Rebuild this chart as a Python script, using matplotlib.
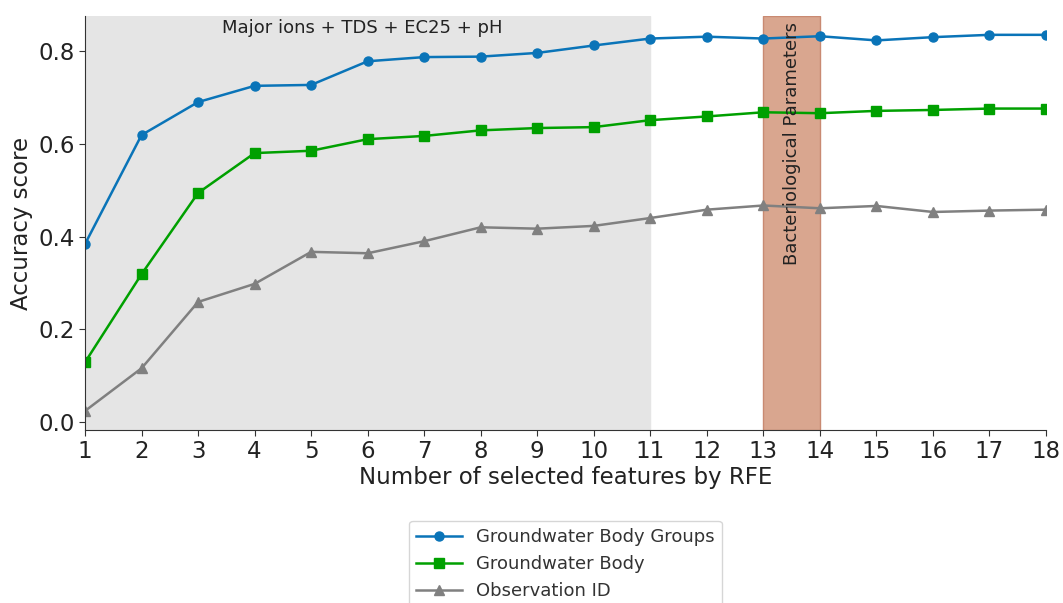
import matplotlib.pyplot as plt

# Datos
n_features = list(range(1, 19))
gw_body_groups = [0.384, 0.619, 0.690, 0.725, 0.727, 0.778, 0.787, 0.788, 0.796, 0.812,
                  0.827, 0.831, 0.827, 0.832, 0.823, 0.830, 0.835, 0.835]
gw_body = [0.129, 0.319, 0.494, 0.580, 0.585, 0.610, 0.617, 0.629, 0.634, 0.636,
           0.651, 0.659, 0.668, 0.666, 0.671, 0.673, 0.676, 0.676]
observation_id = [0.024, 0.116, 0.259, 0.298, 0.367, 0.364, 0.390, 0.420, 0.417, 0.423,
                  0.440, 0.458, 0.467, 0.461, 0.466, 0.453, 0.456, 0.458]

fig = plt.figure(figsize=(10.63, 6.03), dpi=100)
ax = fig.add_axes([0.080, 0.287, 0.904, 0.686])

# Zonas sombreadas
ax.axvspan(1, 11, color='#e5e5e5', zorder=0)
ax.axvspan(13, 14, facecolor='#d9a68f', edgecolor='#c98a72', linewidth=1, zorder=0)
ax.text(5.9, 0.849, 'Major ions + TDS + EC25 + pH', ha='center', va='center',
        fontsize=13, color='#222222')
ax.text(13.5, 0.60, 'Bacteriological Parameters', rotation=90, ha='center', va='center',
        fontsize=13, color='#222222')

ax.plot(n_features, gw_body_groups, marker='o', color='#0a74b8', linewidth=1.8,
        markersize=6.5, label='Groundwater Body Groups')
ax.plot(n_features, gw_body, marker='s', color='#00a000', linewidth=1.8,
        markersize=6.5, label='Groundwater Body')
ax.plot(n_features, observation_id, marker='^', color='#808080', linewidth=1.8,
        markersize=6.5, label='Observation ID')

ax.set_xlim(1, 18)
ax.set_ylim(-0.017, 0.875)
ax.set_xticks(n_features)
ax.set_yticks([0.0, 0.2, 0.4, 0.6, 0.8])
ax.set_yticklabels(['0.0', '0.2', '0.4', '0.6', '0.8'])
ax.tick_params(labelsize=16.5, length=4, color='#333333', labelcolor='#222222')
ax.set_xlabel('Number of selected features by RFE', fontsize=16.5, labelpad=2, color='#222222')
ax.set_ylabel('Accuracy score', fontsize=16.5, color='#222222')
for s in ['top', 'right']:
    ax.spines[s].set_visible(False)
ax.spines['left'].set_color('#333333')
ax.spines['bottom'].set_color('#333333')

leg = ax.legend(loc='upper center', bbox_to_anchor=(0.5, -0.198), fontsize=13,
                frameon=True, edgecolor='#cccccc', handlelength=2.5,
                labelspacing=0.5, borderpad=0.4)
for t in leg.get_texts():
    t.set_color('#333333')

plt.savefig('out.png', dpi=100)
